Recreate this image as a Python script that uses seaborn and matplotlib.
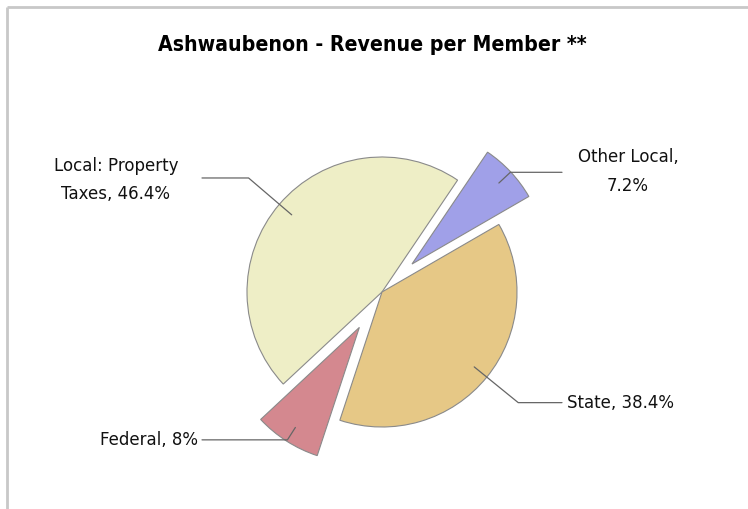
import numpy as np
import matplotlib
matplotlib.use("Agg")
import matplotlib.pyplot as plt
import seaborn as sns

categories = ["Local: Property Taxes", "Other Local", "State", "Federal"]
values = [46.4, 7.2, 38.4, 8.0]
label_texts = ["Local: Property\nTaxes, 46.4%", "Other Local,\n7.2%", "State, 38.4%", "Federal, 8%"]
colors = ["#EEEEC6", "#A0A0E8", "#E6C886", "#D4888F"]
explode_px = [0, 41, 0, 42]

sns.set_theme(style="white")
plt.rcParams['font.family'] = ['DejaVu Sans']

W, H = 748, 509
fig = plt.figure(figsize=(W / 100, H / 100), dpi=100)
ax = fig.add_axes([0, 0, 1, 1])

cx, cy, R = 382, H - 292, 135
wedges, _ = ax.pie(values, colors=colors, startangle=223, counterclock=False,
                   explode=explode_px, center=(cx, cy), radius=R,
                   wedgeprops=dict(edgecolor="#8a8a8a", linewidth=0.8))
ax.set_xlim(0, W)
ax.set_ylim(0, H)
ax.set_aspect("equal")
ax.axis("off")

# frame lines (top and left)
ax.plot([7, W], [H - 7, H - 7], color="#c8c8c8", lw=2, solid_capstyle="butt")
ax.plot([7, 7], [0, H - 7], color="#c8c8c8", lw=2, solid_capstyle="butt")

fig.text(372 / W, 1 - 45 / H, "Ashwaubenon - Revenue per Member **", ha="center", va="center",
         fontsize=15.2, fontweight="bold", fontstretch="condensed",
         family=["Liberation Sans Narrow", "DejaVu Sans"], color="#000000")

fs = 12
ls = 1.75
for w, txt in zip(wedges, label_texts):
    mid = np.deg2rad((w.theta1 + w.theta2) / 2)
    wx, wy = w.center
    ux, uy = np.cos(mid), np.sin(mid)
    p0 = (wx + 0.88 * R * ux, wy + 0.88 * R * uy)
    elbow_r = 1.3 * R - np.hypot(wx - cx, wy - cy)
    p1 = (wx + elbow_r * ux, wy + elbow_r * uy)
    right = ux > 0
    xend = 562 if right else 202
    ax.plot([p0[0], p1[0], xend], [p0[1], p1[1], p1[1]], color="#666666", lw=0.9)
    if right:
        if "\n" in txt:
            ax.text(xend + 66, p1[1] + 1, txt, ha="center", va="center", fontsize=fs,
                    linespacing=ls, color="#111111")
        else:
            ax.text(xend + 5, p1[1], txt, ha="left", va="center", fontsize=fs, color="#111111")
    else:
        if "\n" in txt:
            ax.text(116, p1[1] - 2, txt, ha="center", va="center", fontsize=fs,
                    linespacing=ls, color="#111111")
        else:
            ax.text(xend - 4, p1[1], txt, ha="right", va="center", fontsize=fs, color="#111111")

fig.savefig("out.png", dpi=100)
